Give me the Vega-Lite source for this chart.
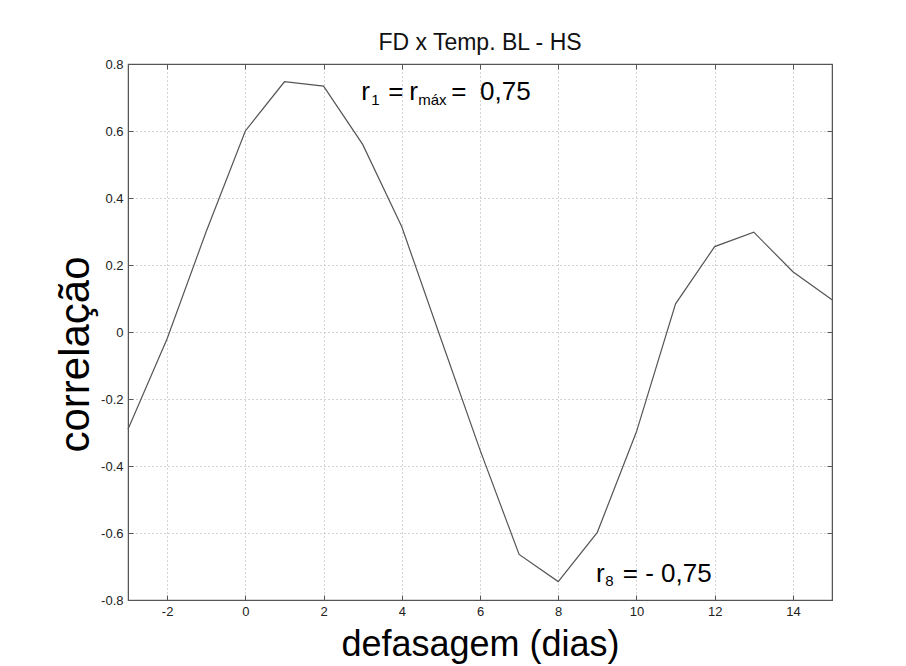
{
  "$schema": "https://vega.github.io/schema/vega-lite/v6.json",
  "width": 704,
  "height": 536,
  "autosize": "none",
  "padding": {"left": 128, "top": 64, "right": 74, "bottom": 66},
  "background": "white",
  "title": {
    "text": "FD x Temp. BL - HS",
    "font": "Liberation Sans",
    "fontSize": 23,
    "fontWeight": "normal",
    "color": "#111",
    "anchor": "middle",
    "baseline": "alphabetic",
    "offset": -15
  },
  "config": {
    "view": {"stroke": "#666", "strokeWidth": 1.2},
    "axis": {
      "labelFont": "Liberation Sans",
      "labelFontSize": 13,
      "labelColor": "#222",
      "titleFont": "Liberation Sans",
      "titleFontWeight": "normal",
      "titleColor": "#000",
      "domainColor": "#555",
      "tickColor": "#555",
      "gridColor": "#aaa",
      "gridDash": [1, 3],
      "gridOpacity": 1,
      "gridWidth": 1
    }
  },
  "datasets": {
    "corr": [
      {"lag": -3, "r": -0.29},
      {"lag": -2, "r": -0.02},
      {"lag": -1, "r": 0.3},
      {"lag": 0, "r": 0.6},
      {"lag": 1, "r": 0.747},
      {"lag": 2, "r": 0.734},
      {"lag": 3, "r": 0.56},
      {"lag": 4, "r": 0.314},
      {"lag": 5, "r": -0.02},
      {"lag": 6, "r": -0.352},
      {"lag": 7, "r": -0.664},
      {"lag": 8, "r": -0.745},
      {"lag": 9, "r": -0.598},
      {"lag": 10, "r": -0.298},
      {"lag": 11, "r": 0.084},
      {"lag": 12, "r": 0.255},
      {"lag": 13, "r": 0.298},
      {"lag": 14, "r": 0.18},
      {"lag": 15, "r": 0.096}
    ],
    "bigText": [
      {"lag": 2.966, "r": 0.6925, "label": "r"},
      {"lag": 3.656, "r": 0.6925, "label": "="},
      {"lag": 4.192, "r": 0.6925, "label": "r"},
      {"lag": 5.264, "r": 0.6925, "label": "="},
      {"lag": 6.003, "r": 0.6925, "label": "0,75"},
      {"lag": 8.966, "r": -0.7454, "label": "r"},
      {"lag": 9.65, "r": -0.7454, "label": "= - 0,75"}
    ],
    "smallText": [
      {"lag": 3.22, "r": 0.679, "label": "1"},
      {"lag": 4.42, "r": 0.679, "label": "máx"},
      {"lag": 9.2, "r": -0.758, "label": "8"}
    ]
  },
  "layer": [
    {
      "data": {"name": "corr"},
      "mark": {"type": "line", "color": "#555", "strokeWidth": 1.2},
      "encoding": {
        "x": {
          "field": "lag",
          "type": "quantitative",
          "scale": {"domain": [-3, 15], "nice": false, "zero": false},
          "axis": {
            "orient": "bottom",
            "values": [-2, 0, 2, 4, 6, 8, 10, 12, 14],
            "labelExpr": "datum.value < 0 ? '-' + format(abs(datum.value), 'd') : format(datum.value, 'd')",
            "tickSize": -5,
            "labelPadding": 10,
            "title": "defasagem (dias)",
            "titleFontSize": 36,
            "titleBaseline": "alphabetic",
            "titleY": 55
          }
        },
        "y": {
          "field": "r",
          "type": "quantitative",
          "scale": {"domain": [-0.8, 0.8], "nice": false, "zero": false},
          "axis": {
            "orient": "left",
            "values": [-0.8, -0.6, -0.4, -0.2, 0, 0.2, 0.4, 0.6, 0.8],
            "labelExpr": "datum.value == 0 ? '0' : (datum.value < 0 ? '-' : '') + format(abs(datum.value), '.1f')",
            "tickSize": -5,
            "labelPadding": 10,
            "title": "correlação",
            "titleFontSize": 42,
            "titleBaseline": "alphabetic",
            "titleAngle": 270,
            "titleX": -40,
            "titleY": 290
          }
        }
      }
    },
    {
      "data": {"name": "corr"},
      "mark": {"type": "line", "opacity": 0},
      "encoding": {
        "x": {
          "field": "lag",
          "type": "quantitative",
          "scale": {"domain": [-3, 15], "nice": false, "zero": false},
          "axis": {
            "orient": "top",
            "values": [-2, 0, 2, 4, 6, 8, 10, 12, 14],
            "labels": false,
            "grid": false,
            "tickSize": -5,
            "title": null
          }
        },
        "y": {
          "field": "r",
          "type": "quantitative",
          "scale": {"domain": [-0.8, 0.8], "nice": false, "zero": false},
          "axis": {
            "orient": "right",
            "values": [-0.8, -0.6, -0.4, -0.2, 0, 0.2, 0.4, 0.6, 0.8],
            "labels": false,
            "grid": false,
            "tickSize": -5,
            "title": null
          }
        }
      }
    },
    {
      "data": {"name": "bigText"},
      "mark": {"type": "text", "font": "Liberation Sans", "fontSize": 26, "align": "left", "baseline": "alphabetic", "color": "#000"},
      "encoding": {
        "x": {"field": "lag", "type": "quantitative", "scale": {"domain": [-3, 15], "nice": false, "zero": false}, "axis": null},
        "y": {"field": "r", "type": "quantitative", "scale": {"domain": [-0.8, 0.8], "nice": false, "zero": false}, "axis": null},
        "text": {"field": "label"}
      }
    },
    {
      "data": {"name": "smallText"},
      "mark": {"type": "text", "font": "Liberation Sans", "fontSize": 15, "align": "left", "baseline": "alphabetic", "color": "#000"},
      "encoding": {
        "x": {"field": "lag", "type": "quantitative", "scale": {"domain": [-3, 15], "nice": false, "zero": false}, "axis": null},
        "y": {"field": "r", "type": "quantitative", "scale": {"domain": [-0.8, 0.8], "nice": false, "zero": false}, "axis": null},
        "text": {"field": "label"}
      }
    }
  ],
  "resolve": {"axis": {"x": "independent", "y": "independent"}}
}
